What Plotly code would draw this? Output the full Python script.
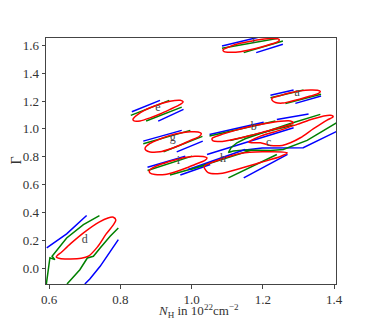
import plotly.graph_objects as go

# contour traces, (N_H, Gamma) pairs
# red = 1 sigma (closed), green / blue = wider contours (clipped by their grid)

D_RED = [(0.62, 0.08), (0.635, 0.115), (0.66, 0.175), (0.70, 0.26), (0.74, 0.33), (0.765, 0.36),
         (0.78, 0.365), (0.787, 0.345), (0.78, 0.31), (0.76, 0.245), (0.735, 0.15), (0.71, 0.085),
         (0.69, 0.07), (0.66, 0.065), (0.63, 0.068), (0.62, 0.08)]
D_GREEN_1 = [(0.592, -0.115), (0.596, -0.027), (0.600, 0.024), (0.602, 0.074), (0.616, 0.060),
             (0.608, 0.085), (0.649, 0.216), (0.696, 0.312), (0.741, 0.377)]
D_GREEN_2 = [(0.650, -0.115), (0.686, -0.012), (0.707, 0.072), (0.724, 0.084), (0.743, 0.144),
             (0.771, 0.228), (0.794, 0.288)]
D_BLUE_1 = [(0.593, 0.144), (0.649, 0.245), (0.705, 0.377)]
D_BLUE_2 = [(0.700, -0.115), (0.714, -0.079), (0.743, 0.012), (0.794, 0.204)]

E_RED = [(0.835, 1.068), (0.855, 1.115), (0.883, 1.152), (0.911, 1.179), (0.939, 1.199), (0.968, 1.205),
         (0.976, 1.194), (0.968, 1.176), (0.939, 1.140), (0.911, 1.107), (0.883, 1.079), (0.855, 1.057),
         (0.838, 1.057), (0.835, 1.068)]
E_GREEN_1 = [(0.829, 1.097), (0.937, 1.205)]
E_GREEN_2 = [(0.872, 1.056), (0.972, 1.156)]
E_BLUE_1 = [(0.832, 1.123), (0.911, 1.205)]
E_BLUE_2 = [(0.906, 1.056), (0.977, 1.140)]

G_RED = [(0.869, 0.860), (0.883, 0.895), (0.911, 0.927), (0.939, 0.953), (0.968, 0.971), (0.996, 0.979),
         (1.018, 0.978), (1.027, 0.967), (1.021, 0.945), (0.996, 0.917), (0.968, 0.884), (0.939, 0.855),
         (0.911, 0.835), (0.883, 0.834), (0.872, 0.845), (0.869, 0.860)]
G_GREEN_1 = [(0.864, 0.893), (0.996, 0.989)]
G_GREEN_2 = [(0.921, 0.835), (1.030, 0.946)]
G_BLUE_1 = [(0.864, 0.912), (0.972, 0.989)]
G_BLUE_2 = [(0.958, 0.835), (1.031, 0.912)]

I_RED = [(0.881, 0.701), (0.897, 0.729), (0.925, 0.755), (0.953, 0.776), (0.981, 0.794), (1.009, 0.803),
         (1.032, 0.801), (1.043, 0.791), (1.037, 0.773), (1.009, 0.744), (0.981, 0.715), (0.953, 0.690),
         (0.925, 0.672), (0.897, 0.672), (0.883, 0.683), (0.881, 0.701)]
I_GREEN_1 = [(0.876, 0.701), (1.001, 0.804)]
I_GREEN_2 = [(0.939, 0.668), (1.043, 0.744)]
I_BLUE_1 = [(0.876, 0.724), (0.982, 0.804)]
I_BLUE_2 = [(0.968, 0.668), (1.052, 0.744)]

F_RED = [(1.088, 1.568), (1.108, 1.593), (1.136, 1.615), (1.164, 1.629), (1.193, 1.642), (1.221, 1.649),
         (1.241, 1.647), (1.246, 1.640), (1.241, 1.626), (1.221, 1.608), (1.193, 1.586), (1.164, 1.568),
         (1.136, 1.554), (1.108, 1.550), (1.091, 1.555), (1.088, 1.568)]
F_GREEN_1 = [(1.085, 1.579), (1.239, 1.649)]
F_GREEN_2 = [(1.146, 1.548), (1.256, 1.632)]
F_BLUE_1 = [(1.085, 1.596), (1.190, 1.660)]
F_BLUE_2 = [(1.181, 1.548), (1.256, 1.608)]

A_RED = [(1.225, 1.219), (1.249, 1.239), (1.277, 1.259), (1.305, 1.273), (1.333, 1.279), (1.353, 1.277),
         (1.361, 1.269), (1.356, 1.255), (1.333, 1.236), (1.305, 1.215), (1.277, 1.197), (1.254, 1.185),
         (1.235, 1.190), (1.226, 1.205), (1.225, 1.219)]
A_GREEN_1 = [(1.221, 1.224), (1.314, 1.279)]
A_GREEN_2 = [(1.263, 1.183), (1.363, 1.248)]
A_BLUE_1 = [(1.221, 1.241), (1.286, 1.279)]
A_BLUE_2 = [(1.291, 1.183), (1.363, 1.236)]

B_RED = [(1.057, 0.931), (1.080, 0.956), (1.122, 0.989), (1.164, 1.017), (1.207, 1.039), (1.249, 1.055),
         (1.277, 1.057), (1.285, 1.046), (1.277, 1.032), (1.249, 1.010), (1.207, 0.981), (1.164, 0.952),
         (1.122, 0.927), (1.080, 0.909), (1.060, 0.913), (1.057, 0.931)]
B_GREEN_1 = [(1.050, 0.948), (1.235, 1.056)]
B_GREEN_2 = [(1.108, 0.917), (1.286, 1.028)]
B_BLUE_1 = [(1.050, 0.960), (1.202, 1.048)]
B_BLUE_2 = [(1.043, 0.816), (1.286, 1.008)]

C_RED = [(1.160, 0.904), (1.193, 0.948), (1.249, 0.991), (1.296, 1.032), (1.342, 1.073), (1.389, 1.097),
         (1.397, 1.087), (1.380, 1.063), (1.342, 1.001), (1.305, 0.936), (1.277, 0.900), (1.254, 0.881),
         (1.221, 0.881), (1.193, 0.900), (1.169, 0.900), (1.160, 0.904)]
C_GREEN = [(1.361, 1.104), (1.277, 1.039), (1.193, 0.967), (1.150, 0.929), (1.127, 0.900), (1.111, 0.866),
           (1.103, 0.830), (1.117, 0.841), (1.150, 0.848), (1.221, 0.845), (1.257, 0.852), (1.324, 0.917),
           (1.409, 1.048)]
C_BLUE_1 = [(1.239, 1.068), (1.328, 1.107)]
C_BLUE_2 = [(1.150, 0.848), (1.198, 0.863), (1.313, 0.865), (1.409, 0.984)]

H_RED = [(1.035, 0.730), (1.080, 0.780), (1.136, 0.823), (1.198, 0.835), (1.268, 0.827), (1.249, 0.801),
         (1.193, 0.758), (1.136, 0.715), (1.080, 0.679), (1.046, 0.686), (1.035, 0.730)]
H_GREEN_1 = [(0.996, 0.708), (1.164, 0.845)]
H_GREEN_2 = [(1.103, 0.648), (1.239, 0.816)]
H_BLUE_1 = [(0.990, 0.708), (1.150, 0.852)]
H_BLUE_2 = [(1.146, 0.648), (1.269, 0.816)]

LABELS = ["a", "b", "c", "d", "e", "f", "g", "h", "i"]
LABEL_X = [1.296, 1.174, 1.216, 0.700, 0.905, 1.174, 0.947, 1.088, 0.963]
LABEL_Y = [1.255, 1.015, 0.895, 0.200, 1.147, 1.639, 0.936, 0.780, 0.768]

curves = [
    (D_BLUE_1, "blue"), (D_BLUE_2, "blue"), (D_GREEN_1, "green"), (D_GREEN_2, "green"),
    (E_BLUE_1, "blue"), (E_BLUE_2, "blue"), (E_GREEN_1, "green"), (E_GREEN_2, "green"),
    (G_BLUE_1, "blue"), (G_BLUE_2, "blue"), (G_GREEN_1, "green"), (G_GREEN_2, "green"),
    (I_BLUE_1, "blue"), (I_BLUE_2, "blue"), (I_GREEN_1, "green"), (I_GREEN_2, "green"),
    (F_BLUE_1, "blue"), (F_BLUE_2, "blue"), (F_GREEN_1, "green"), (F_GREEN_2, "green"),
    (A_BLUE_1, "blue"), (A_BLUE_2, "blue"), (A_GREEN_1, "green"), (A_GREEN_2, "green"),
    (B_BLUE_1, "blue"), (B_BLUE_2, "blue"), (B_GREEN_1, "green"), (B_GREEN_2, "green"),
    (C_BLUE_1, "blue"), (C_BLUE_2, "blue"), (C_GREEN, "green"),
    (H_BLUE_1, "blue"), (H_BLUE_2, "blue"), (H_GREEN_1, "green"), (H_GREEN_2, "green"),
]
reds = [D_RED, E_RED, G_RED, I_RED, F_RED, A_RED, B_RED, C_RED, H_RED]

fig = go.Figure()
for pts, col in curves:
    fig.add_trace(go.Scatter(x=[p[0] for p in pts], y=[p[1] for p in pts], mode="lines",
                             line=dict(color=col, width=1.5), hoverinfo="skip"))
for pts in reds:
    fig.add_trace(go.Scatter(x=[p[0] for p in pts], y=[p[1] for p in pts], mode="lines",
                             line=dict(color="red", width=1.5, shape="spline", smoothing=0.8),
                             hoverinfo="skip"))

fig.add_trace(go.Scatter(x=LABEL_X, y=LABEL_Y, text=LABELS, mode="text",
                         textfont=dict(family="Liberation Serif", size=12, color="#444444"),
                         hoverinfo="skip"))

axis_style = dict(showgrid=False, zeroline=False, showline=True, linecolor="#444444", linewidth=1,
                  mirror=True, ticks="outside", ticklen=3.5, tickcolor="#444444",
                  tickfont=dict(family="Liberation Serif", size=13, color="#333333"))

fig.update_xaxes(range=[0.591, 1.405], tickvals=[0.6, 0.8, 1.0, 1.2, 1.4],
                 ticktext=["0.6", "0.8", "1.0", "1.2", "1.4"], **axis_style)
fig.update_yaxes(range=[-0.115, 1.653], tickvals=[0.0, 0.2, 0.4, 0.6, 0.8, 1.0, 1.2, 1.4, 1.6],
                 ticktext=["0.0", "0.2", "0.4", "0.6", "0.8", "1.0", "1.2", "1.4", "1.6"],
                 **axis_style)

# axis labels as annotations so they sit where the reference has them
fig.add_annotation(text="<i>N</i><sub>H</sub> in 10<sup>22</sup>cm<sup>−2</sup>",
                   xref="paper", yref="paper", x=0.525, y=-0.11, xanchor="center", yanchor="middle",
                   borderpad=0, showarrow=False,
                   font=dict(family="Liberation Serif", size=13, color="#333333"))
fig.add_annotation(text="Γ", textangle=-90,
                   xref="paper", yref="paper", x=-0.105, y=0.5, xanchor="center", yanchor="middle",
                   showarrow=False, font=dict(family="Liberation Serif", size=14, color="#333333"))

# the page body adds an 8px margin, so the figure is 8px smaller than the window
fig.update_layout(width=366, height=312, showlegend=False,
                  margin=dict(l=38, r=38, t=30, b=36),
                  plot_bgcolor="white", paper_bgcolor="white")

fig.write_html("out.html")
